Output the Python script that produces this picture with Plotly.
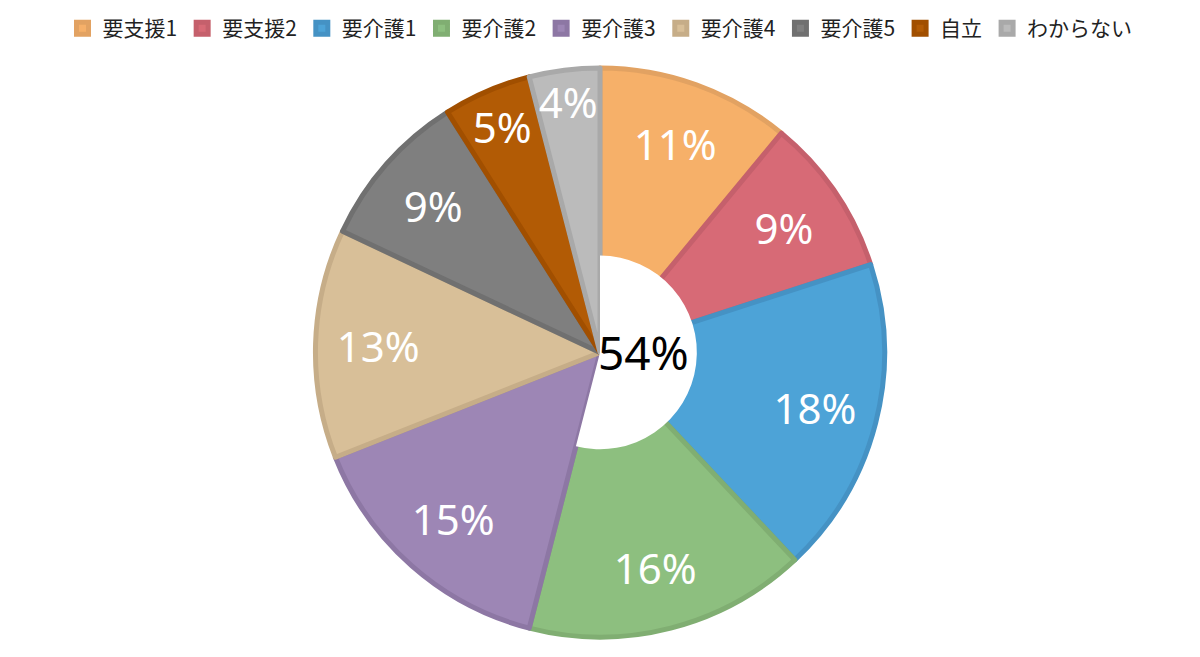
import plotly.graph_objects as go

# care level categories and their share (%)
labels = ["要支援1", "要支援2", "要介護1", "要介護2", "要介護3",
          "要介護4", "要介護5", "自立", "わからない"]
values = [11, 9, 18, 16, 15, 13, 9, 5, 4]

fill_colors = ["#F6B069", "#D76A76", "#4DA3D7", "#8DBF7F", "#9D86B5",
               "#D8BF98", "#7F7F7F", "#B25B05", "#BBBBBB"]
edge_colors = ["#E2A262", "#C5606C", "#4592C4", "#80AE72", "#8D77A4",
               "#C6AD88", "#707070", "#A14F00", "#A9A9A9"]

# the first four categories (要支援1..要介護2) are summed in the centre
n_center = 4
center_share = sum(values[:n_center])
rest_share = sum(values) - center_share

# page body adds an 8px margin, so the figure is kept inside the window
W, H = 1184, 641
cy = 344          # pie centre, px from top of the figure
R = 285           # pie radius, px
r_hole = 97       # white half-disc radius, px

pie_dom = dict(x=[0, 1], y=[(H - cy - R) / H, (H - cy + R) / H])
hole_dom = dict(x=[(W / 2 - r_hole) / W, (W / 2 + r_hole) / W],
                y=[(H - cy - r_hole) / H, (H - cy + r_hole) / H])

fig = go.Figure()

fig.add_trace(go.Pie(
    labels=labels,
    values=values,
    sort=False,
    direction="clockwise",
    rotation=0,
    marker=dict(colors=fill_colors, line=dict(color=edge_colors, width=5)),
    textinfo="none",
    hoverinfo="skip",
    domain=pie_dom,
))

# white half-disc over the centre of the first four slices
fig.add_trace(go.Pie(
    labels=["center", "rest"],
    values=[center_share, rest_share],
    sort=False,
    direction="clockwise",
    rotation=0,
    marker=dict(colors=["white", "rgba(0,0,0,0)"], line=dict(width=0)),
    textinfo="none",
    hoverinfo="skip",
    showlegend=False,
    domain=hole_dom,
))

# transparent ring that carries the percentage labels near the rim
fig.add_trace(go.Pie(
    labels=labels,
    values=values,
    sort=False,
    direction="clockwise",
    rotation=0,
    hole=0.56,
    marker=dict(colors=["rgba(0,0,0,0)"] * len(values), line=dict(width=0)),
    texttemplate="%{value}%",
    textposition="inside",
    insidetextorientation="horizontal",
    insidetextfont=dict(family="Noto Sans", size=42, color="white"),
    hoverinfo="skip",
    showlegend=False,
    domain=pie_dom,
))

fig.add_annotation(
    x=0.5, y=(H - cy) / H, xref="paper", yref="paper",
    xanchor="left", yanchor="middle", xshift=-4,
    text=f"{center_share}%", showarrow=False,
    font=dict(family="Noto Sans", size=46, color="black"),
)

fig.update_layout(
    width=W,
    height=H,
    margin=dict(l=0, r=0, t=0, b=0),
    paper_bgcolor="white",
    plot_bgcolor="white",
    font=dict(family="Noto Sans CJK JP", size=21, color="#222222"),
    uniformtext=dict(minsize=42, mode="show"),
    legend=dict(orientation="h", x=0.5, xanchor="center", y=1 - 20 / H, yanchor="middle",
                traceorder="normal", itemwidth=30,
                font=dict(family="Noto Sans CJK JP", size=21, color="#222222")),
)

fig.write_html("out.html")
